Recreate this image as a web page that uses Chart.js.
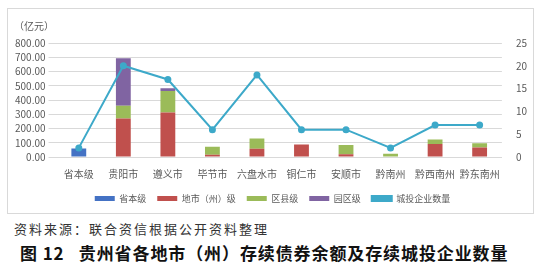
<!DOCTYPE html>
<html>
<head>
<meta charset="utf-8">
<script src="https://cdn.jsdelivr.net/npm/chart.js@4"></script>
<style>
  body { margin: 0; width: 544px; height: 271px; background: #fff; position: relative; overflow: hidden; font-family: "Noto Sans CJK SC", sans-serif; }
  #frame { position: absolute; left: 7px; top: 8px; width: 527px; height: 206px; border: 1px solid #d9d9d9; box-sizing: border-box; }
  #unit { position: absolute; left: 6px; top: 9px; font-size: 10px; color: #595959; }
  #source { position: absolute; left: 14px; top: 219px; font-size: 13px; letter-spacing: 2px; color: #333; }
  #title { position: absolute; left: 20px; top: 240px; font-size: 17px; font-weight: bold; color: #111; white-space: pre; letter-spacing: 0.9px; }
</style>
</head>
<body>
<div id="frame">
  <canvas id="analytics" width="525" height="204"></canvas>
  <div id="unit">（亿元）</div>
</div>
<div id="source">资料来源：联合资信根据公开资料整理</div>
<div id="title">图 12   贵州省各地市（州）存续债券余额及存续城投企业数量</div>
<script>
const regions = ['省本级', '贵阳市', '遵义市', '毕节市', '六盘水市', '铜仁市', '安顺市', '黔南州', '黔西南州', '黔东南州'];
const provinceLevel = [60, null, null, null, null, null, null, null, null, null];
const cityLevel = [null, 271, 312, 16, 58, 87, 20, null, 92, 67];
const countyLevel = [null, 88, 152, 56, 72, null, 65, 22, 31, 29];
const parkLevel = [null, 334, 18, null, null, null, null, null, null, null];
const lgfvCount = [2, 20, 17, 6, 18, 6, 6, 2, 7, 7];

const font = { family: '"Noto Sans CJK SC", sans-serif', size: 10 };

const bar = (label, data, color) => ({
  type: 'bar', label, data, backgroundColor: color, stack: 's', yAxisID: 'y', order: 1,
  barPercentage: 0.9, categoryPercentage: 0.37
});

new Chart(document.getElementById('analytics'), {
  data: {
    labels: regions,
    datasets: [
      bar('省本级', provinceLevel, '#4472C4'),
      bar('地市（州）级', cityLevel, '#C0504D'),
      bar('区县级', countyLevel, '#9BBB59'),
      bar('园区级', parkLevel, '#8064A2'),
      {
        type: 'line', label: '城投企业数量', data: lgfvCount, yAxisID: 'y1', order: 0,
        borderColor: '#3DA9C9', backgroundColor: '#3DA9C9', borderWidth: 2,
        pointRadius: 2.5, pointBackgroundColor: '#3DA9C9', tension: 0
      }
    ]
  },
  options: {
    responsive: false,
    animation: false,
    layout: { padding: { top: 34, left: 4, right: 0, bottom: 0 } },
    plugins: {
      legend: {
        position: 'bottom',
        labels: {
          font: { ...font, size: 9 }, color: '#595959', boxWidth: 20, boxHeight: 5, padding: 11,
          sort: (a, b) => a.datasetIndex - b.datasetIndex
        }
      },
      tooltip: { enabled: false }
    },
    scales: {
      x: {
        stacked: true,
        grid: { display: false },
        border: { color: '#d9d9d9' },
        ticks: { font: { ...font, size: 10 }, color: '#595959', maxRotation: 0, autoSkip: false, padding: 3 }
      },
      y: {
        stacked: true, min: 0, max: 800,
        ticks: { stepSize: 100, autoSkip: false, font: { ...font, size: 10 }, color: '#595959', callback: v => v.toFixed(2) },
        grid: { color: '#d9d9d9' },
        border: { display: false }
      },
      y1: {
        position: 'right', min: 0, max: 25,
        ticks: { stepSize: 5, autoSkip: false, font: { ...font, size: 10 }, color: '#595959', padding: 6 },
        grid: { display: false },
        border: { display: false }
      }
    }
  }
});
</script>
</body>
</html>
